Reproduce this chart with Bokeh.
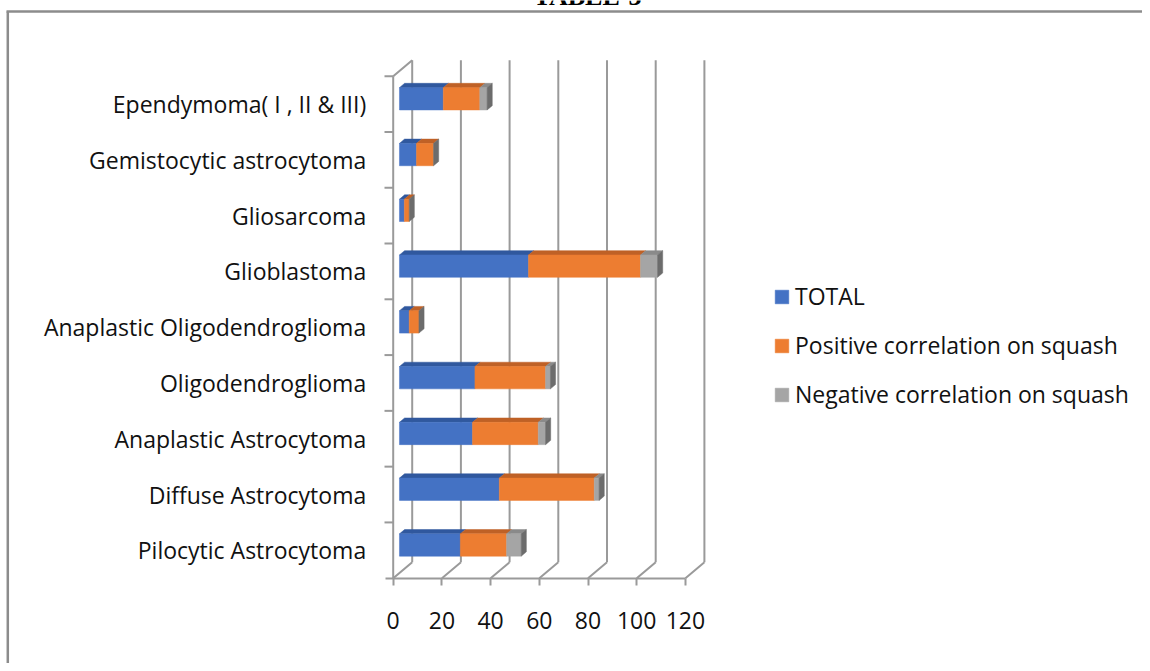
from bokeh.plotting import figure
from bokeh.models import (Range1d, FixedTicker, CustomJSTickFormatter, Legend,
                          LegendItem)
from bokeh.core.properties import value
from bokeh.embed import file_html
from bokeh.resources import INLINE

# ---------------- data (bottom -> top, as in the chart) ----------------
categories = [
    "Pilocytic Astrocytoma",
    "Diffuse Astrocytoma",
    "Anaplastic Astrocytoma",
    "Oligodendroglioma",
    "Anaplastic Oligodendroglioma",
    "Glioblastoma",
    "Gliosarcoma",
    "Gemistocytic astrocytoma",
    "Ependymoma( I , II & III)",
]
total = [25, 41, 30, 31, 4, 53, 2, 7, 18]
positive = [19, 39, 27, 29, 4, 46, 2, 7, 15]
negative = [6, 2, 3, 2, 0, 7, 0, 0, 3]
series_names = ["TOTAL", "Positive correlation on squash", "Negative correlation on squash"]
x_ticks = [0, 20, 40, 60, 80, 100, 120]
title_text = "TABLE-3"

# ---------------- style ----------------
FRONT = ["#4472C4", "#ED7D31", "#A5A5A5"]
TOPC = ["#30589E", "#BF6126", "#8A8A8A"]
SIDE = "#6C6C6C"
GRID = "#9A9A9A"
FONT = "Open Sans"
FSIZE = "23px"
TXT = "#111111"

W, H = 1142, 663
PXX = 2.435          # px per value unit
PXY = 55.78          # px per category slot
ZX, ZY = 392.7, 577.7   # pixel position of the (0, 0) corner of the front axes
X0, X1 = -ZX / PXX, (W - ZX) / PXX
Y0, Y1 = -(H - ZY) / PXY, ZY / PXY
DX, DY = 19 / PXX, 16 / PXY     # depth vector of the 3-D box
F1, F2 = 0.33, 0.60             # bar front/back depth fraction
HALF = 0.20                     # half bar thickness (category units)
n = len(categories)
ymax = n

def fx(px):   # canvas px -> data x
    return X0 + px / PXX

def fy(py):   # canvas px (from top) -> data y
    return (ZY - py) / PXY

p = figure(width=W, height=H,
           x_range=Range1d(X0, X1), y_range=Range1d(Y0, Y1),
           output_backend="svg", toolbar_location=None, min_border=0)
p.outline_line_color = None
p.grid.visible = False
p.background_fill_color = "white"
p.border_fill_color = "white"

# ---------------- outer box (cut at right/bottom, as in the source) ----------------
BOX = "#8C8C8C"
p.segment(x0=[fx(7.3), fx(6)], y0=[fy(11), fy(11)], x1=[fx(7.3), fx(W + 5)], y1=[fy(H + 5), fy(11)],
          line_color=BOX, line_width=2.5)
p.text(x=[fx(587)], y=[fy(-4)], text=[title_text], text_align="center",
       text_baseline="alphabetic", text_font=value("Liberation Serif"),
       text_font_style="bold", text_font_size="26px", text_color="black")

# ---------------- 3-D walls / grid ----------------
gx0 = [v + DX for v in x_ticks]
p.segment(x0=gx0, y0=[DY] * len(x_ticks), x1=gx0, y1=[ymax + DY] * len(x_ticks),
          line_color=GRID, line_width=2)
p.segment(x0=x_ticks, y0=[0] * len(x_ticks), x1=gx0, y1=[DY] * len(x_ticks),
          line_color=GRID, line_width=2)
p.segment(x0=[0, 0], y0=[0, ymax], x1=[0, DX], y1=[ymax, ymax + DY],
          line_color=GRID, line_width=2)
ks = list(range(1, n + 1))
p.segment(x0=[fx(384)] * len(ks), y0=ks, x1=[0] * len(ks), y1=ks,
          line_color=GRID, line_width=2)

# ---------------- stacked 3-D bars ----------------
series = [total, positive, negative]
starts = [[0] * n, total[:], [t + q for t, q in zip(total, positive)]]
fxo, fyo = F1 * DX, F1 * DY
bxo, byo = F2 * DX, F2 * DY
front_renderers = []
for s, vals in enumerate(series):
    a = starts[s]
    b = [u + v for u, v in zip(a, vals)]
    yc = [i + 0.5 for i in range(n)]
    idx = [i for i in range(n) if vals[i] > 0]
    txs = [[a[i] + fxo, b[i] + fxo, b[i] + bxo, a[i] + bxo] for i in idx]
    tys = [[yc[i] + HALF + fyo, yc[i] + HALF + fyo, yc[i] + HALF + byo, yc[i] + HALF + byo] for i in idx]
    p.patches(xs=txs, ys=tys, fill_color=TOPC[s], line_color=TOPC[s], line_width=0.5)
    r = p.quad(left=[a[i] + fxo for i in idx], right=[b[i] + fxo for i in idx],
               bottom=[yc[i] - HALF + fyo for i in idx], top=[yc[i] + HALF + fyo for i in idx],
               fill_color=FRONT[s], line_color=FRONT[s], line_width=0.5)
    front_renderers.append(r)

ends = [t + q + m for t, q, m in zip(total, positive, negative)]
sxs = [[e + fxo, e + fxo, e + bxo, e + bxo] for e in ends]
sys_ = [[i + 0.5 - HALF + fyo, i + 0.5 + HALF + fyo, i + 0.5 + HALF + byo, i + 0.5 - HALF + byo]
        for i in range(n)]
p.patches(xs=sxs, ys=sys_, fill_color=SIDE, line_color=SIDE, line_width=0.5)

# ---------------- axes (fixed inside the frame at the 3-D front edges) ----------------
xa = p.xaxis[0]
xa.fixed_location = 0
xa.ticker = FixedTicker(ticks=x_ticks)
xa.bounds = (fx(385), x_ticks[-1])
xa.axis_line_color = GRID
xa.axis_line_width = 2
xa.major_tick_line_color = GRID
xa.major_tick_line_width = 2
xa.major_tick_out = 7
xa.major_tick_in = 0
xa.minor_tick_line_color = None
xa.major_label_standoff = 27
xa.major_label_text_font = FONT
xa.major_label_text_font_size = FSIZE
xa.major_label_text_color = TXT

ya = p.yaxis[0]
ya.fixed_location = 0
ya.ticker = FixedTicker(ticks=[i + 0.5 for i in range(n)])
ya.formatter = CustomJSTickFormatter(args=dict(labels=categories),
                                     code="const i = Math.round(tick - 0.5); return labels[i] || '';")
ya.axis_line_color = None
ya.major_tick_line_color = None
ya.minor_tick_line_color = None
ya.major_tick_out = 0
ya.major_tick_in = 0
ya.major_label_standoff = 27
ya.major_label_text_font = FONT
ya.major_label_text_font_size = FSIZE
ya.major_label_text_color = TXT

# ---------------- legend ----------------
items = [LegendItem(label=nm, renderers=[r]) for nm, r in zip(series_names, front_renderers)]
leg = Legend(items=items, location=(773, 253), orientation="vertical",
             glyph_width=17, glyph_height=17, label_standoff=5, spacing=17,
             padding=0, margin=0, border_line_alpha=0, background_fill_alpha=0,
             label_text_font=FONT, label_text_font_size=FSIZE, label_text_color=TXT)
p.add_layout(leg)

open("out.html", "w").write(file_html(p, INLINE))
